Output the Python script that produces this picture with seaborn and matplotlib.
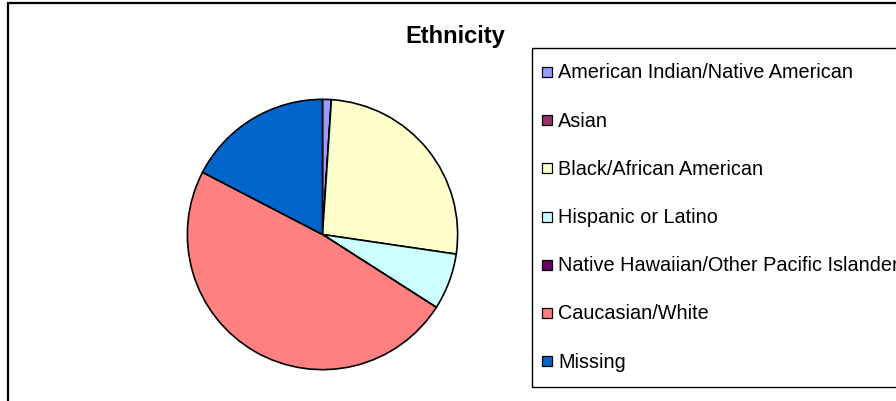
import matplotlib
matplotlib.use("Agg")
import matplotlib.pyplot as plt
import seaborn as sns
from matplotlib.patches import Rectangle

categories = [
    "American Indian/Native American",
    "Asian",
    "Black/African American",
    "Hispanic or Latino",
    "Native Hawaiian/Other Pacific Islander",
    "Caucasian/White",
    "Missing",
]
values = [1.05, 0.0, 26.3, 6.75, 0.0, 48.6, 17.4]
colors = ["#9999FF", "#993366", "#FFFFCC", "#CCFFFF", "#660066", "#FF8080", "#0066CC"]
title = "Ethnicity"

sns.set_theme(style="white")
plt.rcParams["font.family"] = ["Liberation Sans", "DejaVu Sans"]

W, H = 896, 402
fig = plt.figure(figsize=(W / 100, H / 100), dpi=100)
fig.patch.set_facecolor("white")

def fx(px):
    return px / W

def fy(py):
    return (H - py) / H

# outer chart border (extends past right/bottom edges)
fig.patches.append(Rectangle((fx(8), fy(H + 10)), 1.0, (H + 10 - 4) / H,
                             transform=fig.transFigure, fill=False,
                             edgecolor="black", linewidth=1.6, zorder=0))

# pie
cx, cy, r = 322.5, 235.5, 136.5
ax = fig.add_axes([fx(cx - r), fy(cy + r), 2 * r / W, 2 * r / H])
ax.pie(values, colors=colors, startangle=90, counterclock=False,
       wedgeprops=dict(edgecolor="black", linewidth=1.2))
ax.set_xlim(-1.01, 1.01)
ax.set_ylim(-1.01, 1.01)
ax.set_axis_off()

# title
fig.text(fx(455), fy(36), title, ha="center", va="center",
         fontsize=17, fontweight="bold", color="black")

# legend box
fig.patches.append(Rectangle((fx(532), fy(388)), 1.0, (388 - 49) / H,
                             transform=fig.transFigure, fill=False,
                             edgecolor="black", linewidth=1.0, zorder=1))
y0, dy = 73, 48.2
for i, (lab, col) in enumerate(zip(categories, colors)):
    yc = y0 + i * dy
    fig.patches.append(Rectangle((fx(542), fy(yc + 5)), 10 / W, 10 / H,
                                 transform=fig.transFigure, facecolor=col,
                                 edgecolor="black", linewidth=0.9, zorder=2))
    fig.text(fx(558), fy(yc), lab, ha="left", va="center", fontsize=14.3,
             color="black")

fig.savefig("out.png", dpi=100, facecolor="white")
